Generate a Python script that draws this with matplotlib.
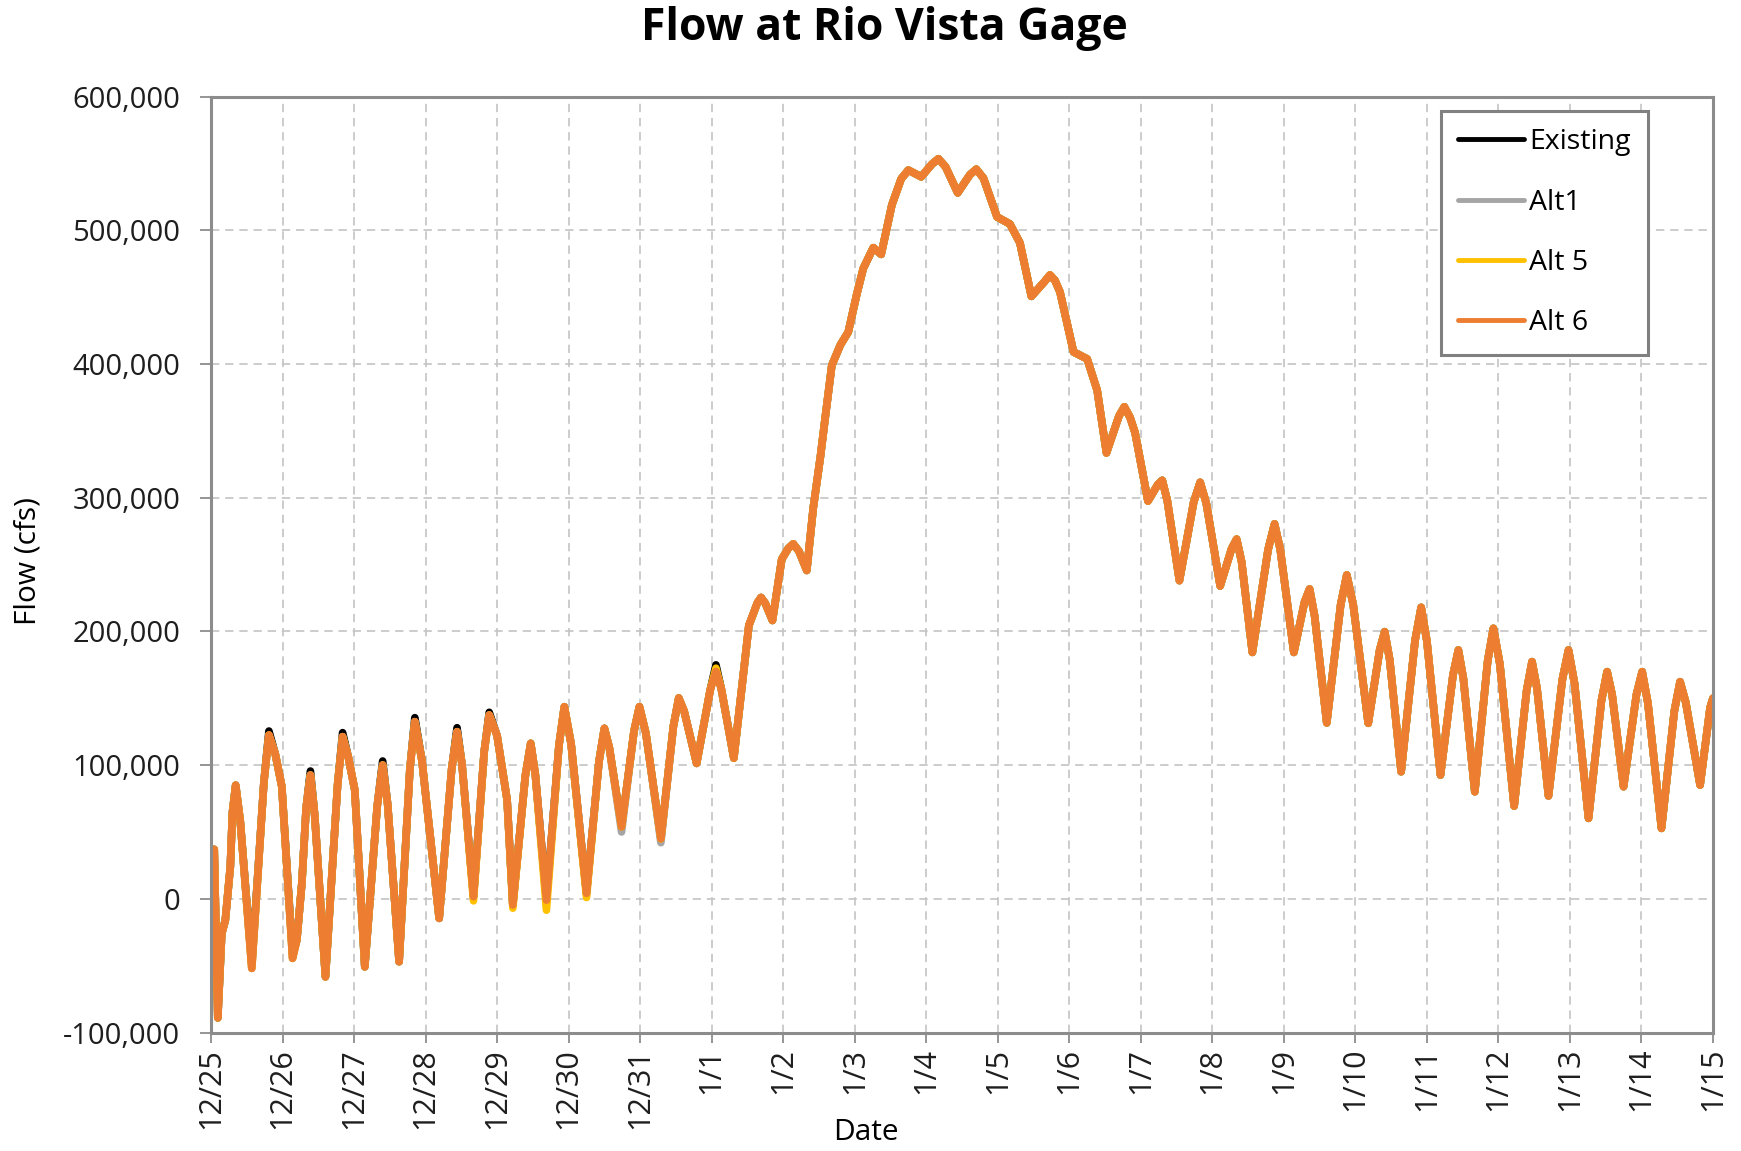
import matplotlib
matplotlib.use('Agg')
import matplotlib.pyplot as plt

# days since 12/25 00:00
days = [0.045, 0.095, 0.15, 0.20, 0.27, 0.30, 0.345, 0.41, 0.57, 0.74,
        0.81, 0.90, 0.99, 1.14, 1.20, 1.27, 1.33, 1.39, 1.45, 1.60,
        1.77, 1.84, 1.92, 2.01, 2.15, 2.325, 2.40, 2.47, 2.63, 2.78,
        2.85, 2.95, 3.19, 3.365, 3.44, 3.51, 3.67, 3.82, 3.89, 4.00,
        4.14, 4.22, 4.395, 4.47, 4.535, 4.69, 4.865, 4.94, 5.035, 5.25,
        5.425, 5.50, 5.57, 5.74, 5.915, 5.99, 6.08, 6.29, 6.465, 6.54,
        6.615, 6.79, 6.98, 7.06, 7.135, 7.31, 7.52, 7.64, 7.69, 7.75,
        7.85, 7.98, 8.07, 8.14, 8.22, 8.33, 8.42, 8.52, 8.59, 8.68,
        8.80, 8.91, 9.03, 9.12, 9.26, 9.37, 9.52, 9.65, 9.75, 9.93,
        10.08, 10.17, 10.27, 10.44, 10.61, 10.70, 10.80, 10.99, 11.17, 11.31,
        11.47, 11.66, 11.73, 11.80, 11.87, 12.06, 12.25, 12.39, 12.52, 12.695,
        12.77, 12.85, 12.92, 13.10, 13.24, 13.30, 13.37, 13.54, 13.74, 13.83,
        13.915, 14.11, 14.27, 14.34, 14.41, 14.56, 14.78, 14.87, 14.95, 15.14,
        15.29, 15.36, 15.43, 15.60, 15.795, 15.88, 15.97, 16.18, 16.34, 16.41,
        16.48, 16.64, 16.835, 16.92, 17.00, 17.19, 17.365, 17.44, 17.51, 17.67,
        17.85, 17.93, 18.02, 18.22, 18.395, 18.47, 18.54, 18.70, 18.895, 18.98,
        19.065, 19.26, 19.44, 19.52, 19.59, 19.75, 19.93, 20.01, 20.09, 20.28,
        20.46, 20.54, 20.62, 20.82, 20.96, 21.0]

alt6 = [37000, -89000, -26000, -16000, 24000, 64800, 85000, 57600, -52000, 87600,
        122500, 108000, 84000, -44500, -30800, 11600, 67900, 92600, 62400, -58300,
        85400, 121300, 106000, 81400, -50800, 69900, 100100, 70700, -47000, 96600,
        132500, 103100, -14600, 97100, 125000, 100300, 1600, 110300, 137500, 122000,
        74000, -4600, 92100, 116300, 92800, -1000, 114800, 143700, 115800, 4100,
        102800, 127500, 112800, 53900, 125700, 143700, 123900, 44900, 129100, 150200,
        140400, 101300, 156300, 170000, 157000, 105200, 204400, 221500, 225400, 221000,
        208200, 254000, 262000, 265500, 260000, 245600, 292200, 330500, 360900, 399000,
        414300, 423900, 452400, 471500, 487000, 482000, 519000, 538500, 545000, 540000,
        549500, 553500, 547500, 528000, 541500, 545700, 539000, 510000, 504700, 490600,
        450600, 462000, 466600, 462500, 453900, 409000, 403800, 380400, 333500, 361100,
        368000, 360000, 348600, 297500, 310000, 313000, 298000, 238000, 296800, 311500,
        296000, 234000, 262000, 269000, 252000, 184300, 261200, 280400, 261200, 184300,
        222200, 231700, 211700, 131600, 220100, 242200, 220000, 131300, 186100, 199800,
        178900, 95100, 193400, 218000, 192900, 92600, 167400, 186100, 164900, 80100,
        177900, 202300, 175700, 69400, 155800, 177400, 157300, 77000, 164300, 186100,
        160900, 60200, 148000, 169900, 152700, 83900, 152700, 169900, 146500, 52700,
        140500, 162400, 146900, 85100, 143000, 150000]

# where the other runs part from Alt 6 (day: flow)
existing_diff = {0.57: -49000, 0.81: 125500, 1.14: -41500, 1.39: 95600, 1.84: 124300,
                 2.40: 103100, 2.85: 135500, 3.44: 128000, 3.89: 139500, 7.06: 175000}
alt1_diff = {5.74: 50000, 6.29: 42000, 4.69: -3000}
alt5_diff = {3.67: -1500, 4.22: -7000, 4.69: -8500, 5.25: 1000, 7.06: 172500}

series_names = ['Existing', 'Alt1', 'Alt 5', 'Alt 6']
series_colors = ['#000000', '#A5A5A5', '#FFC000', '#ED7D31']

date_labels = ['12/25', '12/26', '12/27', '12/28', '12/29', '12/30', '12/31', '1/1', '1/2', '1/3',
               '1/4', '1/5', '1/6', '1/7', '1/8', '1/9', '1/10', '1/11', '1/12', '1/13', '1/14', '1/15']


def with_diff(base, diff):
    vals = dict(zip(days, base))
    vals.update(diff)
    return [vals[d] for d in days]


all_series = [with_diff(alt6, existing_diff), with_diff(alt6, alt1_diff),
              with_diff(alt6, alt5_diff), alt6]

plt.rcParams['font.family'] = ['Open Sans', 'DejaVu Sans']

fig = plt.figure(figsize=(17.41, 11.51), dpi=100)
ax = fig.add_axes([0.1212, 0.1029, 0.8627, 0.8132])

for name, color, vals in zip(series_names, series_colors, all_series):
    ax.plot(days, vals, color=color, lw=5.5, label=name,
            solid_joinstyle='round', solid_capstyle='round')

ax.set_xlim(0, 21)
ax.set_ylim(-100000, 600000)
ax.set_xticks(range(len(date_labels)))
ax.set_xticklabels(date_labels, rotation=90, fontsize=22)
ax.set_yticks(range(-100000, 600001, 100000))
ax.set_yticklabels(['{:,}'.format(v) for v in range(-100000, 600001, 100000)], fontsize=21)
ax.tick_params(axis='y', direction='out', length=8, width=1.3, color='#8C8C8C', pad=14, labelcolor='#1E1E1E')
ax.tick_params(axis='x', direction='out', length=7, width=1.3, color='#8C8C8C', pad=4, labelcolor='#1E1E1E')

ax.grid(True, color='#C4C4C4', lw=1.2, linestyle=(0, (5, 3.5)))
ax.set_axisbelow(True)
for sp in ax.spines.values():
    sp.set_color('#8C8C8C')
    sp.set_linewidth(2.2)

leg = ax.legend(loc='upper right', bbox_to_anchor=(0.9567, 0.9846), borderaxespad=0,
                fontsize=20.5, handlelength=2.3, handletextpad=0.2, labelspacing=1.14,
                fancybox=False, framealpha=1, borderpad=0.6)
leg.get_frame().set_edgecolor('#808080')
leg.get_frame().set_linewidth(2.2)
for h in leg.get_lines():
    h.set_linewidth(3.5)

fig.text(0.508, 0.975, 'Flow at Rio Vista Gage', fontsize=32, fontweight='bold',
         ha='center', va='center')
fig.text(0.016, 0.5126, 'Flow (cfs)', fontsize=21.5, rotation=90, ha='center', va='center')
fig.text(0.4975, 0.0157, 'Date', fontsize=21.5, ha='center', va='center')

fig.savefig('out.png', dpi=100)
